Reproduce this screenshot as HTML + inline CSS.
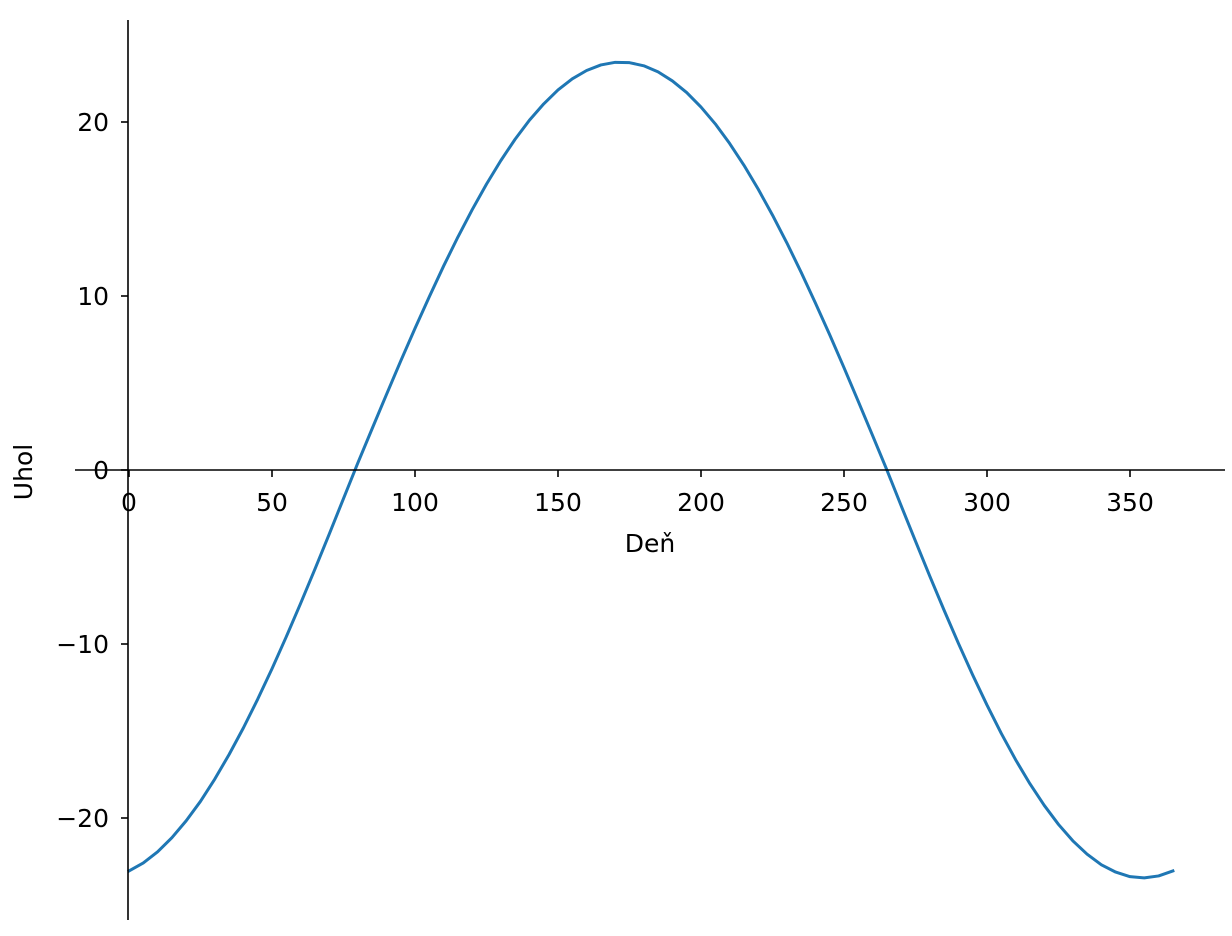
<!DOCTYPE html>
<html><head><meta charset="utf-8"><style>
html,body{margin:0;padding:0;background:#fff;}
svg{display:block;font-family:"DejaVu Sans","Liberation Sans",sans-serif;}
</style></head><body>
<svg id="chart" width="1232" height="936" viewBox="0 0 1232 936"></svg>
<script>
const days = [0,5,10,15,20,25,30,35,40,45,50,55,60,65,70,75,80,85,90,95,100,105,110,115,120,125,130,135,140,145,150,155,160,165,170,175,180,185,190,195,200,205,210,215,220,225,230,235,240,245,250,255,260,265,270,275,280,285,290,295,300,305,310,315,320,325,330,335,340,345,350,355,360,365];
const angles = [-23.04,-22.58,-21.94,-21.13,-20.16,-19.04,-17.76,-16.35,-14.82,-13.17,-11.42,-9.58,-7.67,-5.70,-3.69,-1.64,0.40,2.37,4.33,6.26,8.14,9.96,11.72,13.39,14.96,16.43,17.78,19.01,20.10,21.04,21.84,22.48,22.96,23.28,23.43,23.41,23.23,22.88,22.36,21.69,20.86,19.89,18.77,17.52,16.14,14.65,13.06,11.37,9.60,7.77,5.88,3.94,1.98,0.00,-2.06,-4.09,-6.10,-8.06,-9.96,-11.78,-13.51,-15.14,-16.65,-18.03,-19.27,-20.37,-21.31,-22.08,-22.69,-23.11,-23.37,-23.44,-23.33,-23.04];
const xTicks = [0,50,100,150,200,250,300,350];
const yTicks = [-20,-10,0,10,20];

const NS = "http://www.w3.org/2000/svg";
const svg = document.getElementById('chart');
const xS = d => 129 + d * 2.86;
const yS = v => 470 - v * 17.4;
function mk(tag, attrs, parent){ const e=document.createElementNS(NS,tag); for(const k in attrs) e.setAttribute(k,attrs[k]); (parent||svg).appendChild(e); return e; }

// series
const pts = days.map((d,i)=>xS(d).toFixed(2)+','+yS(angles[i]).toFixed(2)).join(' ');
const line = mk('polyline',{points:pts,fill:'none',stroke:'#1f77b4','stroke-width':3,'stroke-linejoin':'round','stroke-linecap':'square'});



// axes
const xa = mk('line',{x1:75,y1:470,x2:1225,y2:470,stroke:'#000','stroke-width':1.6});


const ya = mk('line',{x1:128,y1:20,x2:128,y2:920,stroke:'#000','stroke-width':1.6});



xTicks.forEach(t=>{
  const x=xS(t);
  const tk=mk('line',{x1:x,y1:470,x2:x,y2:477,stroke:'#000','stroke-width':1.6});
  
  
  const tx=mk('text',{x:x,y:511,'text-anchor':'middle','font-size':25,fill:'#000'});
  tx.textContent=String(t);
  
  
});
yTicks.forEach(t=>{
  const y=yS(t);
  const tk=mk('line',{x1:121,y1:y,x2:128,y2:y,stroke:'#000','stroke-width':1.6});
  
  
  const tx=mk('text',{x:109,y:y+9,'text-anchor':'end','font-size':25,fill:'#000'});
  tx.textContent=t<0?'\u2212'+Math.abs(t):String(t);
  
  
});
const xl=mk('text',{x:650,y:552,'text-anchor':'middle','font-size':25,fill:'#000'});
xl.textContent='Deň';


const yl=mk('text',{x:0,y:0,'text-anchor':'middle','font-size':25,fill:'#000',transform:'translate(32,472) rotate(-90)'});
yl.textContent='Uhol';


</script>
</body></html>
